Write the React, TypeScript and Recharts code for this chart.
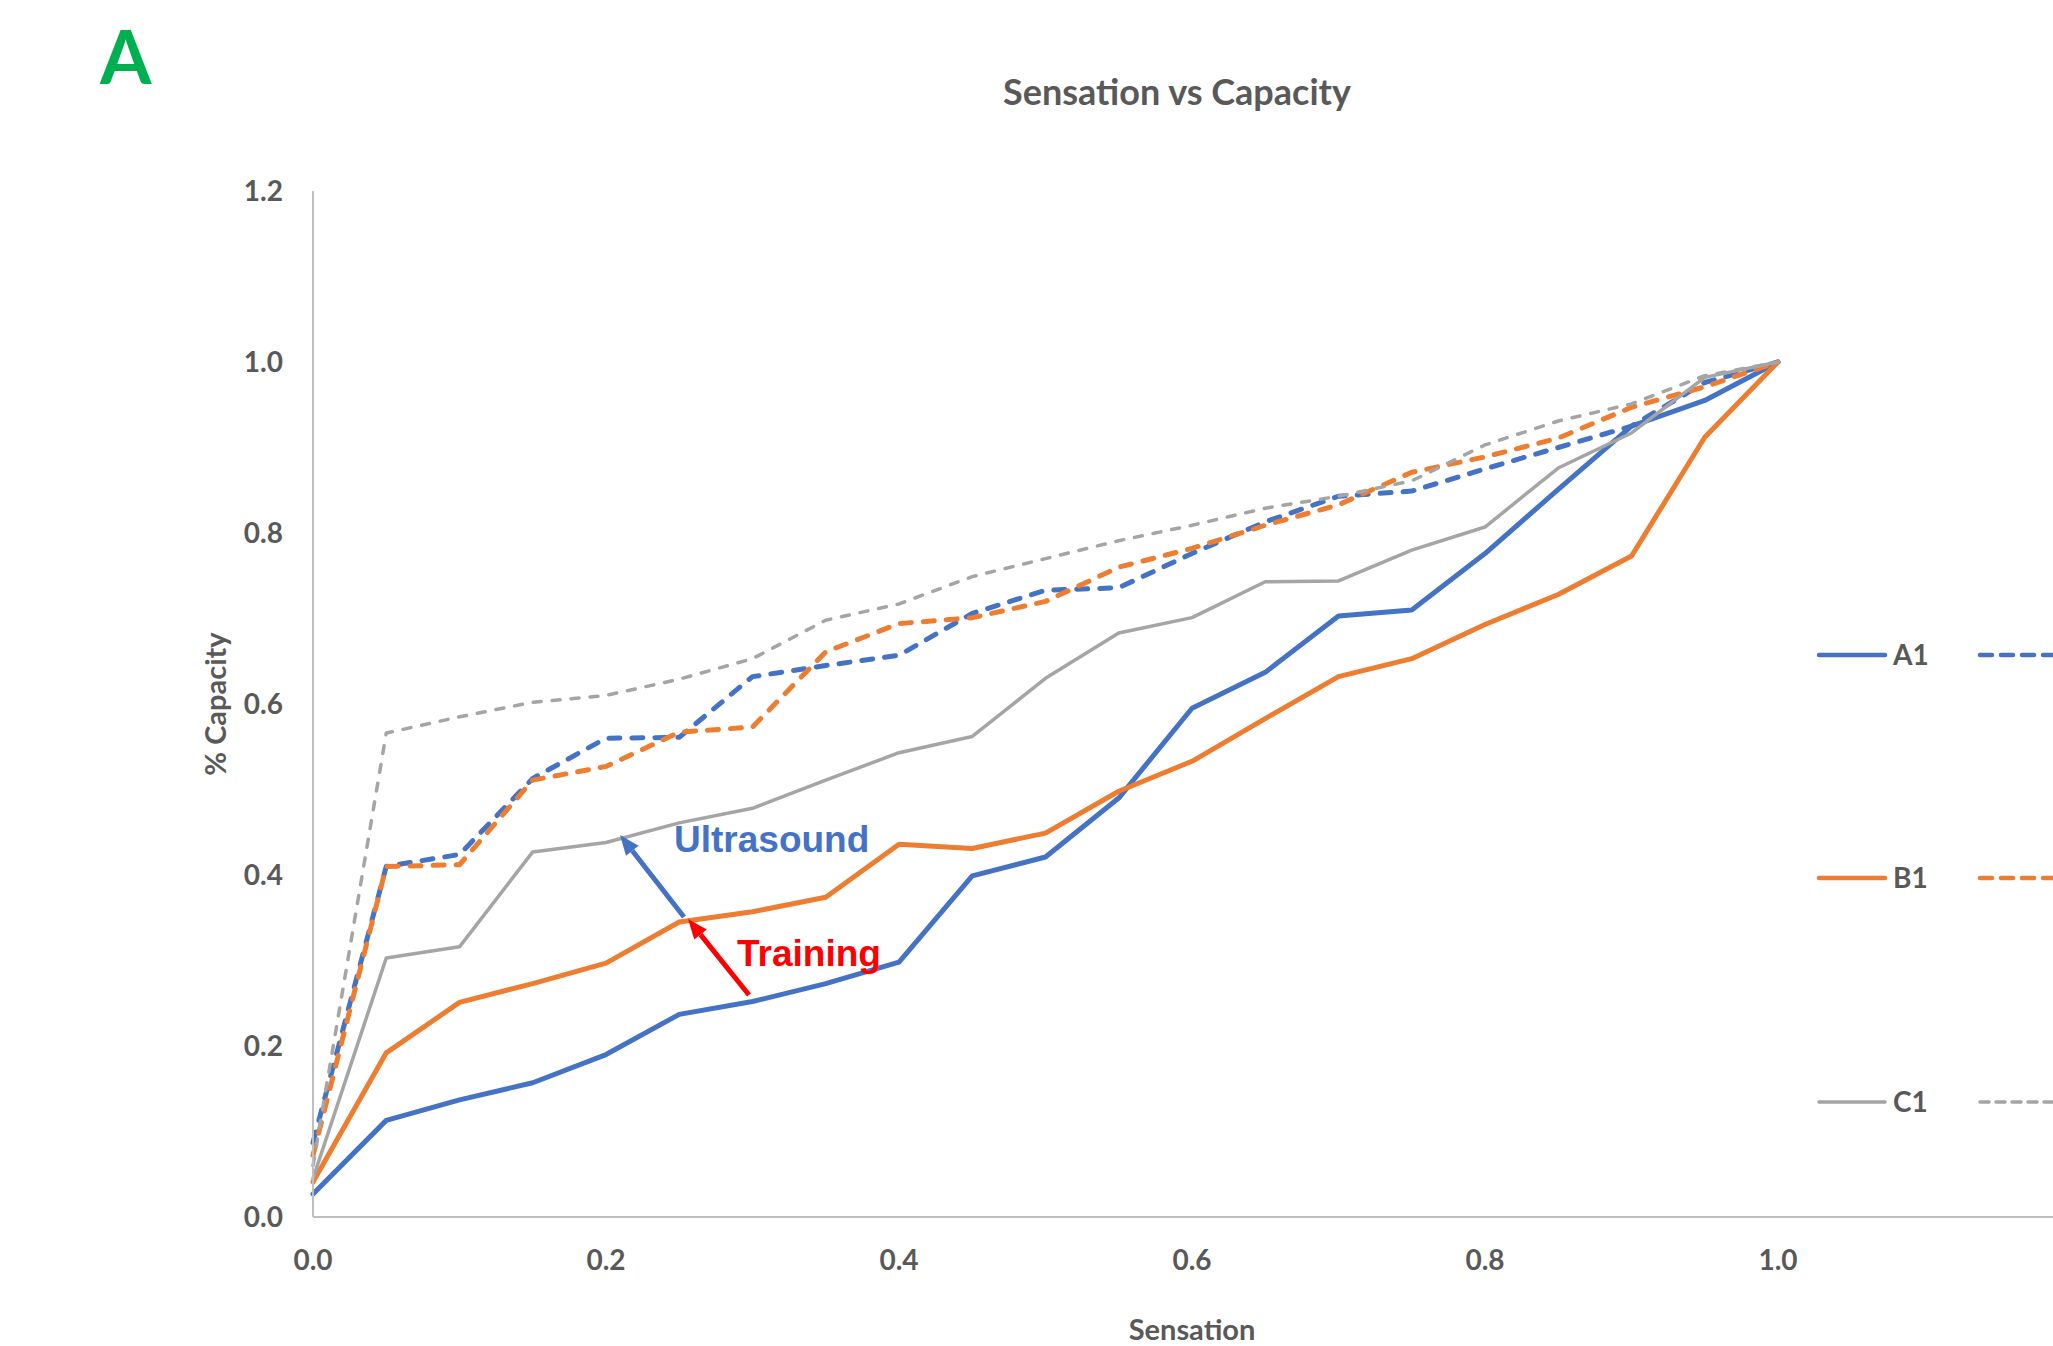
import { CartesianGrid, Line, LineChart, XAxis, YAxis } from 'recharts'

// x = sensation fraction, y = % capacity
const sensation = [
  0, 0.05, 0.1, 0.15, 0.2, 0.25, 0.3, 0.35, 0.4, 0.45, 0.5, 0.55, 0.6, 0.65, 0.7, 0.75, 0.8, 0.85,
  0.9, 0.95, 1.0,
]
const a1 = [
  0.027, 0.113, 0.137, 0.157, 0.19, 0.237, 0.252, 0.273, 0.298, 0.399, 0.421, 0.49, 0.595, 0.637,
  0.703, 0.71, 0.776, 0.851, 0.925, 0.955, 1.0,
]
const a2 = [
  0.087, 0.41, 0.424, 0.513, 0.56, 0.561, 0.632, 0.645, 0.657, 0.706, 0.733, 0.736, 0.776, 0.813,
  0.843, 0.849, 0.875, 0.9, 0.925, 0.976, 1.0,
]
const b1 = [
  0.041, 0.192, 0.251, 0.273, 0.297, 0.345, 0.357, 0.374, 0.436, 0.431, 0.449, 0.498, 0.533, 0.583,
  0.632, 0.653, 0.693, 0.728, 0.773, 0.912, 1.0,
]
const b2 = [
  0.072, 0.41, 0.412, 0.511, 0.527, 0.567, 0.573, 0.661, 0.694, 0.701, 0.72, 0.76, 0.782, 0.809,
  0.833, 0.871, 0.889, 0.911, 0.947, 0.971, 1.0,
]
const c1 = [
  0.045, 0.303, 0.316, 0.427, 0.438, 0.461, 0.478, 0.511, 0.543, 0.562, 0.63, 0.683, 0.701, 0.743,
  0.744, 0.78, 0.807, 0.876, 0.917, 0.982, 1.0,
]
const c2 = [
  0.06, 0.566, 0.585, 0.602, 0.61, 0.629, 0.653, 0.698, 0.717, 0.749, 0.77, 0.791, 0.809, 0.829,
  0.843, 0.861, 0.903, 0.931, 0.951, 0.984, 1.0,
]
const ticks = [0, 0.2, 0.4, 0.6, 0.8, 1.0, 1.2]

const BLUE = '#4472C4'
const ORANGE = '#ED7D31'
const GRAY = '#A5A5A5'
const TEXT = '#595959'
const FONT = 'Lato, "Open Sans", sans-serif'

const rows = sensation.map((s, i) => ({
  s,
  a1: a1[i],
  a2: a2[i],
  b1: b1[i],
  b2: b2[i],
  c1: c1[i],
  c2: c2[i],
}))

const series = [
  { key: 'a1', name: 'A1', color: BLUE, width: 5, dash: undefined },
  { key: 'a2', name: 'A2', color: BLUE, width: 5, dash: '11 12' },
  { key: 'b1', name: 'B1', color: ORANGE, width: 5, dash: undefined },
  { key: 'b2', name: 'B2', color: ORANGE, width: 5, dash: '11 12' },
  { key: 'c1', name: 'C1', color: GRAY, width: 3.5, dash: undefined },
  { key: 'c2', name: 'C2', color: GRAY, width: 3.5, dash: '8 11' },
]

const legendRows = [
  { name: 'A1', color: BLUE, width: 4.5, dash: '12 9', y: 655 },
  { name: 'B1', color: ORANGE, width: 4.5, dash: '12 9', y: 878 },
  { name: 'C1', color: GRAY, width: 3.5, dash: '9 7', y: 1102 },
]

function Arrow({ x1, y1, x2, y2, color }: { x1: number; y1: number; x2: number; y2: number; color: string }) {
  const ang = Math.atan2(y2 - y1, x2 - x1)
  const len = 20
  const half = 8
  const bx = x2 - len * Math.cos(ang)
  const by = y2 - len * Math.sin(ang)
  const px = -Math.sin(ang) * half
  const py = Math.cos(ang) * half
  return (
    <g>
      <line x1={x1} y1={y1} x2={bx} y2={by} stroke={color} strokeWidth={5} />
      <polygon points={`${x2},${y2} ${bx + px},${by + py} ${bx - px},${by - py}`} fill={color} />
    </g>
  )
}

export default function App() {
  return (
    <div
      style={{
        position: 'fixed',
        left: 0,
        top: 0,
        width: 2053,
        height: 1346,
        overflow: 'hidden',
        background: '#fff',
      }}
    >
      <LineChart
        width={2200}
        height={1346}
        data={rows}
        margin={{ top: 191, right: 129, bottom: 0, left: 213 }}
      >
        <CartesianGrid horizontal={false} vertical={false} />
        <XAxis
          type="number"
          dataKey="s"
          domain={[0, 1.2]}
          ticks={ticks}
          tickFormatter={(v: number) => v.toFixed(1)}
          height={129}
          tickLine={false}
          tickSize={0}
          tickMargin={33}
          axisLine={{ stroke: '#BFBFBF', strokeWidth: 2 }}
          tick={{ fill: TEXT, fontSize: 28, fontWeight: 700, fontFamily: FONT }}
          label={{
            value: 'Sensation',
            position: 'insideBottom',
            offset: 6,
            fill: TEXT,
            fontSize: 29,
            fontWeight: 700,
            fontFamily: FONT,
          }}
        />
        <YAxis
          type="number"
          domain={[0, 1.2]}
          ticks={ticks}
          tickFormatter={(v: number) => v.toFixed(1)}
          width={100}
          tickLine={false}
          tickSize={0}
          tickMargin={30}
          axisLine={{ stroke: '#BFBFBF', strokeWidth: 2 }}
          tick={{ fill: TEXT, fontSize: 28, fontWeight: 700, fontFamily: FONT }}
        />
        {series.map((s) => (
          <Line
            key={s.key}
            type="linear"
            dataKey={s.key}
            name={s.name}
            stroke={s.color}
            strokeWidth={s.width}
            strokeDasharray={s.dash}
            strokeLinecap="round"
            strokeLinejoin="round"
            dot={false}
            activeDot={false}
            isAnimationActive={false}
          />
        ))}
      </LineChart>

      <svg
        width={2053}
        height={1346}
        style={{ position: 'absolute', left: 0, top: 0, pointerEvents: 'none' }}
      >
        <text x={100} y={84} fill="#00B050" fontSize={74} fontWeight={700} fontFamily={FONT}>
          A
        </text>
        <text
          x={1177}
          y={105}
          textAnchor="middle"
          fill={TEXT}
          fontSize={36}
          fontWeight={700}
          fontFamily={FONT}
        >
          Sensation vs Capacity
        </text>
        <text
          x={226}
          y={704}
          textAnchor="middle"
          transform="rotate(-90 226 704)"
          fill={TEXT}
          fontSize={29}
          fontWeight={700}
          fontFamily={FONT}
        >
          % Capacity
        </text>

        {legendRows.map((r) => (
          <g key={r.name}>
            <line
              x1={1819}
              y1={r.y}
              x2={1885}
              y2={r.y}
              stroke={r.color}
              strokeWidth={r.width}
              strokeLinecap="round"
            />
            <text
              x={1893}
              y={r.y + 10}
              fill={TEXT}
              fontSize={28}
              fontWeight={700}
              fontFamily={FONT}
            >
              {r.name}
            </text>
            <line
              x1={1980}
              y1={r.y}
              x2={2070}
              y2={r.y}
              stroke={r.color}
              strokeWidth={r.width}
              strokeDasharray={r.dash}
              strokeLinecap="round"
            />
          </g>
        ))}

        <Arrow x1={684} y1={917} x2={620} y2={835} color={BLUE} />
        <Arrow x1={749} y1={995} x2={688} y2={919} color="#FF0000" />
        <text
          x={674}
          y={852}
          fill={BLUE}
          fontSize={37}
          fontWeight={700}
          fontFamily='"Liberation Sans", Arial, sans-serif'
        >
          Ultrasound
        </text>
        <text
          x={737}
          y={966}
          fill="#FF0000"
          fontSize={37}
          fontWeight={700}
          fontFamily='"Liberation Sans", Arial, sans-serif'
        >
          Training
        </text>
      </svg>
    </div>
  )
}
